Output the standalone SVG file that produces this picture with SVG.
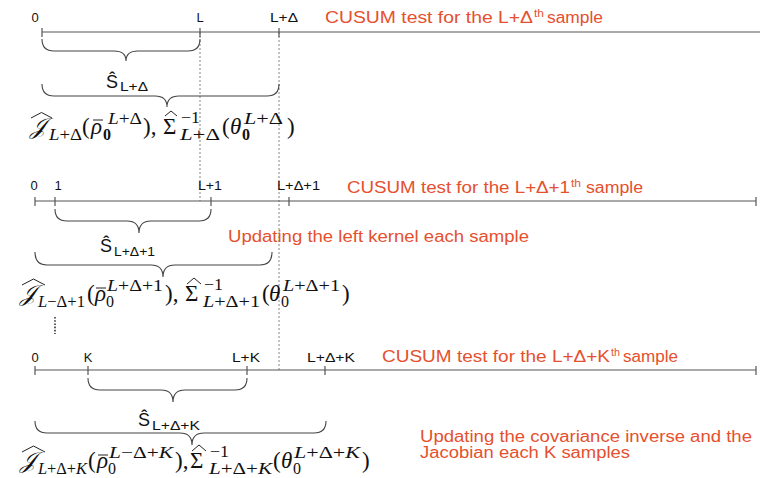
<svg xmlns="http://www.w3.org/2000/svg" width="760" height="478" viewBox="0 0 760 478">
<style>
.ax{stroke:#555;stroke-width:1.2;fill:none}
.tk{stroke:#555;stroke-width:1.2}
.gd{stroke:#666;stroke-width:0.8;stroke-dasharray:2,2;fill:none}
.br{stroke:#444;stroke-width:1.1;fill:none}
.ac{stroke:#222;stroke-width:1;fill:none}
.lb{font-family:"Liberation Sans",Arial,sans-serif;font-size:13px;fill:#111}
.rd{font-family:"Liberation Sans",Arial,sans-serif;font-size:16px;fill:#e5502e}
.rs{font-family:"Liberation Sans",Arial,sans-serif;font-size:11px;fill:#e5502e}
.sh{font-family:"Liberation Sans",Arial,sans-serif;fill:#111}
.m{font-family:"Liberation Serif","DejaVu Serif",serif;font-size:23px;fill:#111}
.s{font-family:"Liberation Serif","DejaVu Serif",serif;font-size:16px;fill:#111}
.i{font-style:italic}
.b{font-weight:bold}
</style>
<rect width="760" height="478" fill="#fff"/>

<g id="connectors">
<path class="gd" d="M200,32 V201"/>
<path class="gd" d="M279,32 V370"/>
</g>

<g id="timeline1">
<path class="ax" d="M42,32 H760"/>
<path class="tk" d="M42,28 V37 M200,28 V37 M279,28 V37"/>
<text class="lb" x="35" y="22" text-anchor="middle">0</text>
<text class="lb" x="200" y="22" text-anchor="middle">L</text>
<text class="lb" x="270" y="22" textLength="28" lengthAdjust="spacingAndGlyphs">L+Δ</text>
<text class="rd" x="325" y="23" textLength="208" lengthAdjust="spacingAndGlyphs">CUSUM test for the L+Δ</text>
<text class="rs" x="534" y="17" textLength="10" lengthAdjust="spacingAndGlyphs">th</text>
<text class="rd" x="547" y="23" textLength="56" lengthAdjust="spacingAndGlyphs">sample</text>
</g>

<g id="window1">
<path class="br" d="M42,39 Q42,51 54,51 L114,51 Q126,51 126,61 Q126,51 138,51 L188,51 Q200,51 200,39"/>
<text class="sh" x="106" y="88" font-size="18">Ŝ</text>
<text class="sh" x="120" y="91" font-size="12" textLength="28" lengthAdjust="spacingAndGlyphs">L+Δ</text>
<path class="br" d="M42,84 Q42,96 54,96 L155,96 Q167,96 167,107 Q167,96 179,96 L267,96 Q279,96 279,84"/>
</g>

<g id="estimate1">
<text class="m i" x="30" y="134">𝒥</text>
<path class="ac" d="M31,118 L41.5,112.5 L52,118"/>
<text class="s" x="49" y="140" textLength="33" lengthAdjust="spacingAndGlyphs"><tspan class="i">L</tspan>+Δ</text>
<text class="m" x="82" y="134">(</text>
<text class="m i" x="91" y="134">ρ</text>
<path class="ac" d="M93,120 L103,120"/>
<text class="s b" x="103" y="140">0</text>
<text class="s" x="108" y="124" textLength="34" lengthAdjust="spacingAndGlyphs"><tspan class="i">L</tspan>+Δ</text>
<text class="m" x="143" y="134">),</text>
<text class="m" x="163" y="134">Σ</text>
<path class="ac" d="M165,116 L171,111 L177,116"/>
<text class="s" x="181" y="123" textLength="19" lengthAdjust="spacingAndGlyphs">−1</text>
<text class="s" x="180" y="140" textLength="40" lengthAdjust="spacingAndGlyphs"><tspan class="i">L</tspan>+Δ</text>
<text class="m" x="222" y="134">(</text>
<text class="m i" x="230" y="134">θ</text>
<text class="s b" x="242" y="140">0</text>
<text class="s" x="244" y="124" textLength="39" lengthAdjust="spacingAndGlyphs"><tspan class="i">L</tspan>+Δ</text>
<text class="m" x="287" y="134">)</text>
</g>

<g id="timeline2">
<path class="ax" d="M35,201 H756"/>
<path class="tk" d="M35,197 V206 M55,197 V206 M211,197 V206 M289,197 V206 M756,197 V206"/>
<text class="lb" x="34" y="190" text-anchor="middle">0</text>
<text class="lb" x="58" y="190" text-anchor="middle">1</text>
<text class="lb" x="198" y="190" textLength="24" lengthAdjust="spacingAndGlyphs">L+1</text>
<text class="lb" x="277" y="190" textLength="43" lengthAdjust="spacingAndGlyphs">L+Δ+1</text>
<text class="rd" x="347" y="193" textLength="223" lengthAdjust="spacingAndGlyphs">CUSUM test for the L+Δ+1</text>
<text class="rs" x="571" y="187" textLength="10" lengthAdjust="spacingAndGlyphs">th</text>
<text class="rd" x="586" y="193" textLength="57" lengthAdjust="spacingAndGlyphs">sample</text>
<text class="rd" x="228" y="242" textLength="301" lengthAdjust="spacingAndGlyphs">Updating the left kernel each sample</text>
</g>

<g id="window2">
<path class="br" d="M55,209 Q55,221 67,221 L127,221 Q139,221 139,233 Q139,221 151,221 L199,221 Q211,221 211,209"/>
<text class="sh" x="100" y="252" font-size="18">Ŝ</text>
<text class="sh" x="114" y="256" font-size="12" textLength="41" lengthAdjust="spacingAndGlyphs">L+Δ+1</text>
<path class="br" d="M35,252 Q35,265 47,265 L151,265 Q163,265 163,277 Q163,265 175,265 L260,265 Q272,265 272,252"/>
</g>

<g id="estimate2">
<text class="m i" x="20" y="301">𝒥</text>
<path class="ac" d="M22,285 L33.5,279 L45,285"/>
<text class="s" x="38" y="307" textLength="47" lengthAdjust="spacingAndGlyphs"><tspan class="i">L</tspan>−Δ+1</text>
<text class="m" x="87" y="301">(</text>
<text class="m i" x="95" y="301">ρ</text>
<path class="ac" d="M96,288 L106,288"/>
<text class="s" x="106" y="307">0</text>
<text class="s" x="107" y="291" textLength="56" lengthAdjust="spacingAndGlyphs"><tspan class="i">L</tspan>+Δ+1</text>
<text class="m" x="165" y="301">),</text>
<text class="m" x="185" y="301">Σ</text>
<path class="ac" d="M187,284 L194,278 L201,284"/>
<text class="s" x="204" y="290" textLength="19" lengthAdjust="spacingAndGlyphs">−1</text>
<text class="s" x="203" y="307" textLength="57" lengthAdjust="spacingAndGlyphs"><tspan class="i">L</tspan>+Δ+1</text>
<text class="m" x="262" y="301">(</text>
<text class="m i" x="269" y="301">θ</text>
<text class="s" x="281" y="307">0</text>
<text class="s" x="283" y="291" textLength="57" lengthAdjust="spacingAndGlyphs"><tspan class="i">L</tspan>+Δ+1</text>
<text class="m" x="342" y="301">)</text>
</g>

<g id="ellipsis">
<path d="M55,317 V334" stroke="#333" stroke-width="1.6" stroke-dasharray="1.6,1.6" fill="none"/>
</g>

<g id="timeline3">
<path class="ax" d="M35,370 H756"/>
<path class="tk" d="M35,366 V375 M88,366 V375 M247,366 V375 M325,366 V375 M756,366 V375"/>
<text class="lb" x="35" y="362" text-anchor="middle">0</text>
<text class="lb" x="88" y="362" text-anchor="middle">K</text>
<text class="lb" x="232" y="362" textLength="28" lengthAdjust="spacingAndGlyphs">L+K</text>
<text class="lb" x="307" y="362" textLength="48" lengthAdjust="spacingAndGlyphs">L+Δ+K</text>
<text class="rd" x="382" y="362" textLength="228" lengthAdjust="spacingAndGlyphs">CUSUM test for the L+Δ+K</text>
<text class="rs" x="611" y="356" textLength="9" lengthAdjust="spacingAndGlyphs">th</text>
<text class="rd" x="623" y="362" textLength="55" lengthAdjust="spacingAndGlyphs">sample</text>
<text class="rd" x="420" y="442" textLength="332" lengthAdjust="spacingAndGlyphs">Updating the covariance inverse and the</text>
<text class="rd" x="420" y="458" textLength="210" lengthAdjust="spacingAndGlyphs">Jacobian each K samples</text>
</g>

<g id="window3">
<path class="br" d="M88,378 Q88,390 100,390 L161,390 Q173,390 173,402 Q173,390 185,390 L235,390 Q247,390 247,378"/>
<text class="sh" x="138" y="426" font-size="18">Ŝ</text>
<text class="sh" x="152" y="430" font-size="12" textLength="48" lengthAdjust="spacingAndGlyphs">L+Δ+K</text>
<path class="br" d="M35,421 Q35,433 47,433 L180,433 Q192,433 192,445 Q192,433 204,433 L314,433 Q326,433 326,421"/>
</g>

<g id="estimate3">
<text class="m i" x="20" y="468">𝒥</text>
<path class="ac" d="M22,452 L33.5,446 L45,452"/>
<text class="s" x="38" y="474" textLength="49" lengthAdjust="spacingAndGlyphs"><tspan class="i">L</tspan>+Δ+<tspan class="i">K</tspan></text>
<text class="m" x="88" y="468">(</text>
<text class="m i" x="97" y="468">ρ</text>
<path class="ac" d="M98,455 L108,455"/>
<text class="s" x="108" y="474">0</text>
<text class="s" x="109" y="458" textLength="64" lengthAdjust="spacingAndGlyphs"><tspan class="i">L</tspan>−Δ+<tspan class="i">K</tspan></text>
<text class="m" x="175" y="468">),</text>
<text class="m" x="190" y="468">Σ</text>
<path class="ac" d="M192,451 L199,445 L206,451"/>
<text class="s" x="210" y="457" textLength="19" lengthAdjust="spacingAndGlyphs">−1</text>
<text class="s" x="209" y="474" textLength="63" lengthAdjust="spacingAndGlyphs"><tspan class="i">L</tspan>+Δ+<tspan class="i">K</tspan></text>
<text class="m" x="273" y="468">(</text>
<text class="m i" x="281" y="468">θ</text>
<text class="s" x="293" y="474">0</text>
<text class="s" x="294" y="458" textLength="66" lengthAdjust="spacingAndGlyphs"><tspan class="i">L</tspan>+Δ+<tspan class="i">K</tspan></text>
<text class="m" x="362" y="468">)</text>
</g>
</svg>
